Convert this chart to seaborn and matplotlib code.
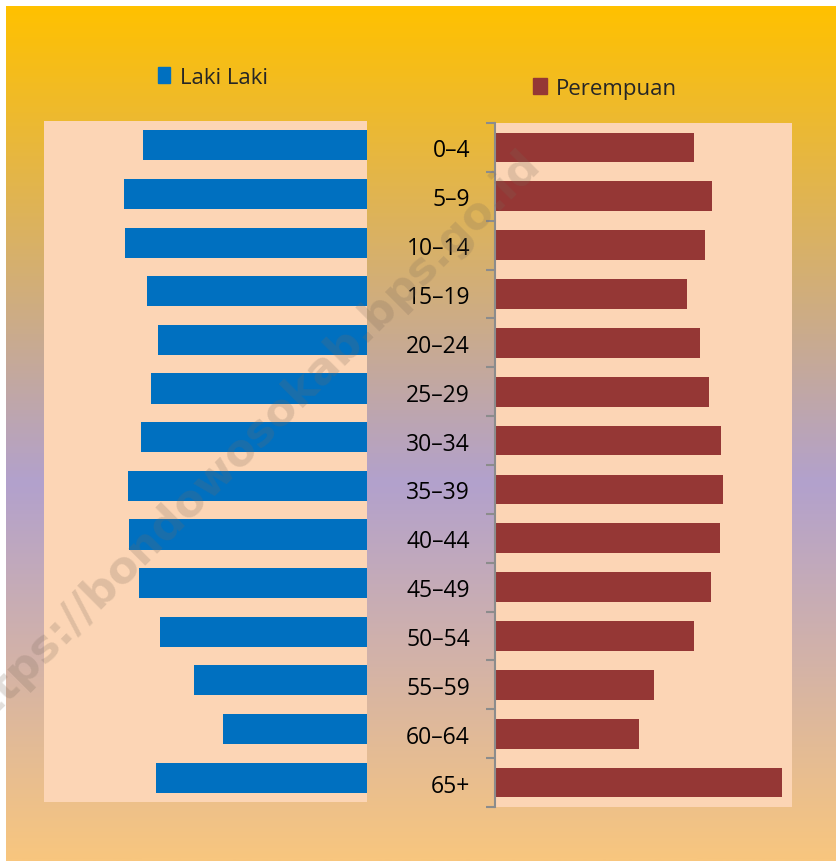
import numpy as np
import matplotlib
matplotlib.use("Agg")
import matplotlib.pyplot as plt
from matplotlib.colors import LinearSegmentedColormap
from matplotlib.patches import Patch
import seaborn as sns

# Kelompok umur dan panjang batang
age_groups = ['0–4', '5–9', '10–14', '15–19', '20–24', '25–29', '30–34',
              '35–39', '40–44', '45–49', '50–54', '55–59', '60–64', '65+']
laki = [224, 243, 242, 220, 209, 216, 226, 239, 238, 228, 207, 173, 144, 211]
perempuan = [199, 217, 210, 192, 205, 214, 226, 228, 225, 216, 199, 159, 144, 287]

BLUE = '#0070C0'
RED = '#953735'
PEACH = '#FCD5B5'

sns.set_style("white")
plt.rcParams['font.family'] = ['Open Sans', 'DejaVu Sans']

W, H = 837, 862
fig = plt.figure(figsize=(W / 100, H / 100), dpi=100, facecolor='white')

# Latar belakang gradasi
bg = fig.add_axes([6 / W, 0, 1 - 6 / W, 1 - 7 / H])
cmap = LinearSegmentedColormap.from_list(
    'bg', [(0.0, '#FFC100'), (0.558, '#B2A1CD'), (1.0, '#F8C67E')])
grad = np.linspace(0, 1, 512).reshape(-1, 1)
bg.imshow(grad, aspect='auto', cmap=cmap, extent=[0, 1, 0, 1], origin='upper')
bg.set_axis_off()

# Panel kiri: Laki Laki
ax_l = fig.add_axes([44 / W, 1 - 803 / H, 323 / W, 681 / H])
sns.barplot(x=laki, y=age_groups, orient='h', color=BLUE, saturation=1,
            width=0.62, linewidth=0, ax=ax_l)
ax_l.set_facecolor(PEACH)
ax_l.set_xlim(323, 0)
ax_l.set_ylim(13.5, -0.5)
ax_l.set_xticks([])
ax_l.set_yticks([])
ax_l.set_xlabel('')
ax_l.set_ylabel('')
for s in ax_l.spines.values():
    s.set_visible(False)

# Panel kanan: Perempuan
ax_r = fig.add_axes([495 / W, 1 - 808 / H, 297 / W, 684 / H])
sns.barplot(x=perempuan, y=age_groups, orient='h', color=RED, saturation=1,
            width=0.61, linewidth=0, ax=ax_r)
ax_r.set_facecolor(PEACH)
ax_r.set_xlim(0, 297)
ax_r.set_ylim(13.5, -0.5)
ax_r.set_xticks([])
ax_r.set_xlabel('')
ax_r.set_ylabel('')
for name, s in ax_r.spines.items():
    s.set_visible(name == 'left')
ax_r.spines['left'].set_color('#8C8C8C')
ax_r.spines['left'].set_linewidth(1.5)
ax_r.set_yticks(np.arange(-0.5, len(age_groups)), labels=[''] * (len(age_groups) + 1))
ax_r.set_yticks(np.arange(len(age_groups)), labels=age_groups, minor=True)
ax_r.tick_params(axis='y', which='major', direction='out', length=6.5,
                 width=1.5, color='#8C8C8C', left=True)
ax_r.tick_params(axis='y', which='minor', length=0, pad=18, labelsize=16.5,
                 labelcolor='black')

# Legenda
ax_l.legend(handles=[Patch(color=BLUE, label='Laki Laki')],
            loc='center left', bbox_to_anchor=(158 / W, 1 - 78 / H),
            bbox_transform=fig.transFigure, frameon=False, fontsize=16,
            handlelength=0.55, handleheight=0.75, handletextpad=0.45,
            borderpad=0, borderaxespad=0)
ax_r.legend(handles=[Patch(color=RED, label='Perempuan')],
            loc='center left', bbox_to_anchor=(533 / W, 1 - 89 / H),
            bbox_transform=fig.transFigure, frameon=False, fontsize=16,
            handlelength=0.65, handleheight=0.75, handletextpad=0.4,
            borderpad=0, borderaxespad=0)

# Watermark (terpotong di tepi kiri seperti pada gambar asli)
fig.text(246 / W, 1 - 443 / H, 'https://bondowosokab.bps.go.id',
         rotation=45, ha='center', va='center', fontsize=32,
         fontweight='bold', color='#7A6A5A', alpha=0.22,
         family=['DejaVu Sans'], rotation_mode='anchor')

fig.savefig('out.png', dpi=100, facecolor='white')
